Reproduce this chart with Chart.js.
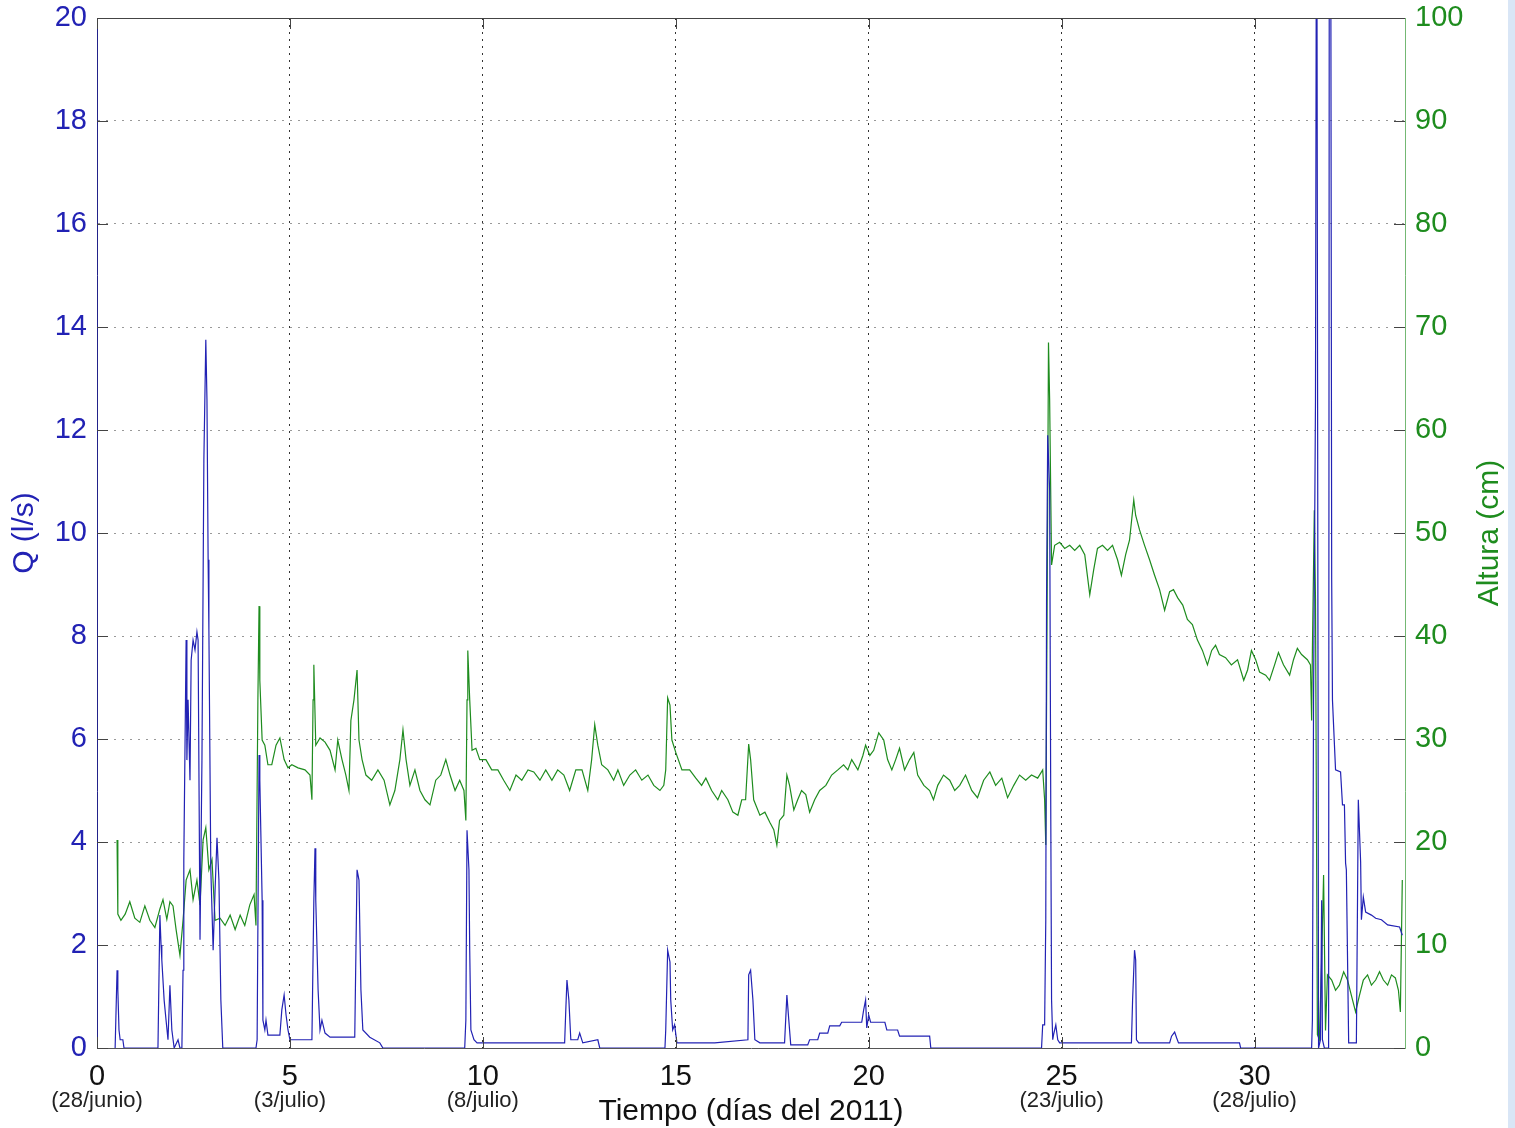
<!DOCTYPE html>
<html>
<head>
<meta charset="utf-8">
<title>Caudal y altura</title>
<script src="https://cdn.jsdelivr.net/npm/chart.js@4.4.1/dist/chart.umd.min.js"></script>
<style>
  html, body { margin: 0; padding: 0; background: #fff; }
  #caja {
    position: relative; width: 1515px; height: 1128px;
    background: linear-gradient(to right, #fff 1508px, #d9e6f6 1508px);
  }
</style>
</head>
<body>
<div id="caja"><canvas id="grafico"></canvas></div>
<script>
// Caudal Q (l/s): dia y valor
const qDias = [0.47, 0.52, 0.54, 0.57, 0.60, 0.67, 0.70, 1.58, 1.63, 1.66, 1.68, 1.74, 1.79, 1.84, 1.89, 1.94, 2.00, 2.10, 2.15, 2.20,
  2.23, 2.25, 2.31, 2.33, 2.36, 2.41, 2.44, 2.49, 2.54, 2.59, 2.62, 2.67, 2.72, 2.77, 2.82, 2.85, 2.88, 2.90, 2.95, 3.01,
  3.06, 3.11, 3.16, 3.21, 3.26, 4.12, 4.15, 4.20, 4.22, 4.28, 4.30, 4.35, 4.38, 4.43, 4.74, 4.79, 4.85, 4.90, 4.95, 5.00,
  5.57, 5.62, 5.65, 5.67, 5.73, 5.78, 5.83, 5.91, 6.04, 6.68, 6.74, 6.79, 6.84, 6.89, 7.07, 7.33, 7.41, 9.53, 9.56, 9.59,
  9.64, 9.66, 9.69, 9.77, 9.85, 12.12, 12.15, 12.18, 12.23, 12.28, 12.46, 12.51, 12.59, 12.98, 13.03, 14.72, 14.74, 14.79, 14.85, 14.87,
  14.92, 14.97, 15.03, 16.01, 16.87, 16.89, 16.94, 17.00, 17.05, 17.18, 17.82, 17.88, 17.93, 17.98, 18.42, 18.47, 18.68, 18.73, 18.94, 18.99,
  19.25, 19.30, 19.82, 19.87, 19.92, 19.95, 20.00, 20.05, 20.42, 20.47, 20.75, 20.80, 21.58, 21.61, 24.48, 24.51, 24.56, 24.59, 24.61, 24.64,
  24.69, 24.72, 24.74, 24.77, 24.79, 24.85, 24.90, 24.95, 26.81, 26.84, 26.89, 26.92, 26.94, 27.00, 27.80, 27.85, 27.93, 27.98, 28.03, 29.61,
  29.64, 31.48, 31.50, 31.53, 31.55, 31.58, 31.61, 31.66, 31.71, 31.74, 31.76, 31.81, 31.92, 31.94, 31.97, 32.00, 32.02, 32.10, 32.23, 32.28,
  32.33, 32.36, 32.38, 32.44, 32.64, 32.67, 32.69, 32.75, 32.77, 32.82, 32.88, 33.03, 33.14, 33.29, 33.45, 33.76, 33.83];
const qCaudal = [0, 1.51, 1.13, 0.35, 0.16, 0.16, 0, 0, 2.58, 2.0, 1.71, 0.93, 0.54, 0.16, 1.22, 0.35, 0, 0.16, 0, 0,
  1.51, 3.65, 7.92, 5.59, 6.76, 5.20, 7.53, 7.92, 7.73, 8.08, 7.92, 2.10, 5.59, 11.42, 13.75, 12.58, 9.48, 8.12, 3.46, 1.90,
  3.07, 4.08, 3.26, 0.93, 0, 0, 0.16, 5.69, 5.20, 2.87, 0.54, 0.35, 0.54, 0.25, 0.25, 0.74, 1.03, 0.64, 0.35, 0.16,
  0.16, 2.87, 3.88, 2.87, 1.13, 0.35, 0.54, 0.29, 0.21, 0.21, 3.46, 3.26, 1.13, 0.35, 0.21, 0.10, 0, 0, 0.54, 4.23,
  3.46, 1.90, 0.35, 0.16, 0.10, 0.10, 0.74, 1.32, 0.93, 0.16, 0.16, 0.29, 0.10, 0.16, 0, 0, 0.35, 1.90, 1.67, 0.93,
  0.35, 0.45, 0.10, 0.10, 0.16, 1.42, 1.51, 0.93, 0.16, 0.10, 0.10, 1.03, 0.54, 0.06, 0.06, 0.16, 0.16, 0.29, 0.29, 0.43,
  0.43, 0.50, 0.50, 0.74, 0.93, 0.39, 0.64, 0.50, 0.50, 0.35, 0.35, 0.23, 0.23, 0, 0, 0.45, 0.45, 2.49, 8.70, 11.90,
  10.83, 4.43, 0.93, 0.16, 0.25, 0.45, 0.16, 0.10, 0.10, 0.93, 1.90, 1.71, 0.16, 0.10, 0.10, 0.23, 0.31, 0.20, 0.10, 0.10,
  0, 0, 0.54, 6.76, 9.09, 12.58, 25, 0, 0.16, 2.87, 0.16, 0, 0, 25, 25, 9.09, 6.76, 5.40, 5.36, 4.72,
  4.72, 3.59, 3.46, 0.10, 0.10, 2.93, 4.82, 3.61, 2.49, 2.93, 2.64, 2.58, 2.52, 2.49, 2.39, 2.35, 2.19];

// Altura (cm): dia y valor
const hDias = [0.52, 0.54, 0.62, 0.73, 0.85, 0.98, 1.11, 1.24, 1.37, 1.50, 1.63, 1.71, 1.81, 1.89, 1.97, 2.05, 2.15, 2.23, 2.31, 2.41,
  2.49, 2.59, 2.67, 2.75, 2.82, 2.90, 2.98, 3.06, 3.19, 3.32, 3.45, 3.58, 3.71, 3.83, 3.96, 4.07, 4.12, 4.17, 4.20, 4.22,
  4.28, 4.35, 4.43, 4.53, 4.64, 4.74, 4.85, 4.95, 5.05, 5.21, 5.39, 5.52, 5.57, 5.60, 5.62, 5.67, 5.78, 5.91, 6.04, 6.17,
  6.24, 6.35, 6.45, 6.53, 6.58, 6.66, 6.74, 6.79, 6.87, 6.97, 7.12, 7.28, 7.44, 7.59, 7.72, 7.85, 7.93, 8.01, 8.11, 8.24,
  8.37, 8.50, 8.63, 8.78, 8.91, 9.04, 9.15, 9.28, 9.40, 9.51, 9.56, 9.59, 9.61, 9.66, 9.72, 9.82, 9.92, 10.08, 10.23, 10.39,
  10.54, 10.70, 10.86, 11.01, 11.17, 11.32, 11.48, 11.63, 11.79, 11.94, 12.10, 12.25, 12.41, 12.57, 12.72, 12.82, 12.90, 12.98, 13.08, 13.24,
  13.39, 13.50, 13.65, 13.81, 13.96, 14.12, 14.28, 14.43, 14.59, 14.69, 14.74, 14.79, 14.85, 14.90, 15.00, 15.16, 15.36, 15.52, 15.67, 15.78,
  15.93, 16.09, 16.19, 16.35, 16.48, 16.61, 16.71, 16.81, 16.89, 16.94, 17.02, 17.18, 17.31, 17.44, 17.54, 17.62, 17.69, 17.80, 17.88, 17.95,
  18.06, 18.16, 18.26, 18.37, 18.47, 18.60, 18.73, 18.89, 19.04, 19.20, 19.35, 19.46, 19.56, 19.72, 19.85, 19.92, 20.03, 20.13, 20.26, 20.39,
  20.49, 20.60, 20.70, 20.80, 20.93, 21.06, 21.17, 21.27, 21.43, 21.58, 21.68, 21.79, 21.94, 22.10, 22.23, 22.36, 22.51, 22.67, 22.82, 22.98,
  23.14, 23.29, 23.45, 23.60, 23.76, 23.91, 24.07, 24.22, 24.38, 24.51, 24.56, 24.59, 24.64, 24.66, 24.69, 24.74, 24.82, 24.95, 25.08, 25.21,
  25.34, 25.47, 25.60, 25.73, 25.83, 25.93, 26.06, 26.19, 26.32, 26.45, 26.55, 26.66, 26.76, 26.87, 26.92, 27.02, 27.15, 27.28, 27.41, 27.54,
  27.67, 27.80, 27.90, 28.01, 28.14, 28.26, 28.39, 28.52, 28.65, 28.78, 28.89, 28.99, 29.09, 29.25, 29.40, 29.56, 29.72, 29.82, 29.92, 30.03,
  30.13, 30.29, 30.39, 30.52, 30.62, 30.75, 30.91, 31.01, 31.11, 31.22, 31.37, 31.45, 31.48, 31.50, 31.55, 31.58, 31.63, 31.68, 31.74, 31.79,
  31.84, 31.89, 32.00, 32.10, 32.20, 32.31, 32.41, 32.51, 32.62, 32.72, 32.82, 32.93, 33.03, 33.14, 33.24, 33.34, 33.45, 33.55, 33.65, 33.73,
  33.78, 33.83];
const hAltura = [20.2, 13.0, 12.4, 13.0, 14.2, 12.6, 12.2, 13.8, 12.4, 11.7, 13.5, 14.4, 12.5, 14.2, 13.8, 11.5, 9.0, 12.4, 16.3, 17.3,
  14.4, 16.3, 13.9, 20.2, 21.4, 17.3, 18.3, 12.4, 12.6, 11.9, 12.9, 11.5, 12.9, 11.9, 13.9, 14.9, 11.9, 33.8, 42.9, 35.7,
  29.9, 29.4, 27.5, 27.5, 29.4, 30.1, 28.0, 27.2, 27.5, 27.2, 27.0, 26.5, 24.1, 33.8, 37.2, 29.4, 30.1, 29.7, 28.9, 27.0,
  29.9, 28.0, 26.5, 25.0, 31.8, 33.8, 36.7, 29.9, 28.0, 26.5, 26.0, 27.0, 26.0, 23.6, 25.0, 28.0, 30.9, 28.0, 25.5, 27.0,
  25.0, 24.1, 23.6, 26.0, 26.5, 28.0, 26.5, 25.0, 26.0, 25.0, 22.1, 33.8, 38.6, 33.8, 28.9, 29.1, 28.0, 28.0, 27.0, 27.0,
  26.0, 25.0, 26.5, 26.0, 27.0, 26.8, 26.0, 27.0, 26.0, 27.0, 26.5, 25.0, 27.0, 27.0, 25.0, 28.0, 31.4, 29.4, 27.5, 27.0,
  26.0, 27.0, 25.5, 26.5, 27.0, 26.0, 26.5, 25.5, 25.0, 25.5, 27.0, 34.0, 33.3, 29.9, 28.7, 27.0, 27.0, 26.2, 25.5, 26.2,
  25.0, 24.1, 25.0, 24.1, 22.9, 22.6, 24.1, 24.1, 29.5, 28.0, 24.1, 22.6, 22.9, 21.9, 21.2, 19.7, 22.1, 22.6, 26.5, 25.5,
  23.1, 24.1, 25.0, 24.6, 22.9, 24.1, 25.0, 25.5, 26.5, 27.0, 27.5, 27.0, 28.0, 27.0, 28.4, 29.4, 28.4, 28.9, 30.6, 29.9,
  28.0, 27.0, 28.0, 29.1, 27.0, 28.0, 28.7, 26.5, 25.5, 25.0, 24.1, 25.5, 26.5, 26.0, 25.0, 25.5, 26.5, 25.0, 24.3, 26.0,
  26.8, 25.5, 26.2, 24.3, 25.5, 26.5, 26.0, 26.5, 26.2, 27.0, 24.1, 19.7, 53.2, 68.5, 62.9, 46.9, 48.8, 49.1, 48.5, 48.8,
  48.3, 48.8, 47.9, 44.0, 46.4, 48.5, 48.8, 48.3, 48.8, 47.4, 45.9, 47.9, 49.3, 53.2, 51.7, 50.3, 48.8, 47.4, 45.9, 44.5,
  42.5, 44.3, 44.5, 43.7, 43.0, 41.6, 41.1, 39.6, 38.6, 37.2, 38.6, 39.1, 38.2, 37.9, 37.2, 37.7, 35.7, 36.7, 38.6, 37.7,
  36.5, 36.2, 35.7, 37.2, 38.4, 37.2, 36.2, 37.7, 38.8, 38.2, 37.7, 37.2, 31.8, 38.6, 52.2, 43.5, 1.3, 0.8, 8.5, 16.8,
  1.7, 7.1, 6.6, 5.6, 6.1, 7.4, 6.6, 5.1, 3.5, 5.1, 6.6, 7.1, 6.1, 6.6, 7.4, 6.6, 6.1, 7.1, 6.8, 5.6,
  3.5, 16.3];

// Marcas del eje x y fechas debajo
const xMarcas = [0, 5, 10, 15, 20, 25, 30];
const fechas = ['(28/junio)', '(3/julio)', '(8/julio)', '', '', '(23/julio)', '(28/julio)'];

const fuente = '"Liberation Sans", Arial, Helvetica, sans-serif';
const azul = '#2222b4';
const verde = '#1e8c1e';

// marco superior, marcas hacia dentro, fechas y titulo derecho
const marco = {
    id: 'marco',
    afterDraw(chart) {
        const ctx = chart.ctx;
        const a = chart.chartArea;
        const sx = chart.scales.x, sq = chart.scales.yq, sh = chart.scales.yh;
        ctx.save();
        ctx.lineWidth = 1;
        ctx.strokeStyle = '#444';
        ctx.beginPath();
        ctx.moveTo(a.left, a.top + 0.5);
        ctx.lineTo(a.right, a.top + 0.5);
        ctx.stroke();

        ctx.beginPath();
        sq.ticks.forEach(t => {
            const y = Math.round(sq.getPixelForValue(t.value)) + 0.5;
            ctx.moveTo(a.left, y); ctx.lineTo(a.left + 11, y);
        });
        sh.ticks.forEach(t => {
            const y = Math.round(sh.getPixelForValue(t.value)) + 0.5;
            ctx.moveTo(a.right - 11, y); ctx.lineTo(a.right, y);
        });
        xMarcas.forEach(v => {
            const x = Math.round(sx.getPixelForValue(v)) + 0.5;
            ctx.moveTo(x, a.bottom); ctx.lineTo(x, a.bottom - 11);
            ctx.moveTo(x, a.top); ctx.lineTo(x, a.top + 11);
        });
        ctx.stroke();

        ctx.font = '22px ' + fuente;
        ctx.fillStyle = '#222';
        ctx.textAlign = 'center';
        ctx.textBaseline = 'middle';
        xMarcas.forEach((v, i) => {
            if (fechas[i]) ctx.fillText(fechas[i], sx.getPixelForValue(v), a.bottom + 53);
        });

        ctx.translate(chart.width - 25, (a.top + a.bottom) / 2);
        ctx.rotate(-Math.PI / 2);
        ctx.font = '30px ' + fuente;
        ctx.fillStyle = verde;
        ctx.fillText('Altura (cm)', 0, 0);
        ctx.restore();
    }
};

// sin relleno extra de las etiquetas, para fijar el area del grafico
function sinRelleno(s) {
    s.paddingTop = 0;
    s.paddingBottom = 0;
    s.paddingLeft = 0;
    s.paddingRight = 0;
}

const ctx = document.getElementById('grafico');

new Chart(ctx, {
    type: 'line',
    data: {
        datasets: [{
            label: 'Q (l/s)',
            data: qDias.map((d, i) => ({x: d, y: qCaudal[i]})),
            yAxisID: 'yq',
            borderColor: azul,
            borderWidth: 1.2,
            pointRadius: 0,
            tension: 0
        }, {
            label: 'Altura (cm)',
            data: hDias.map((d, i) => ({x: d, y: hAltura[i]})),
            yAxisID: 'yh',
            borderColor: verde,
            borderWidth: 1.2,
            pointRadius: 0,
            tension: 0
        }]
    },
    options: {
        responsive: true,
        maintainAspectRatio: false,
        animation: false,
        layout: {padding: {top: 18, left: 0, right: 0, bottom: 0}},
        plugins: {legend: {display: false}, tooltip: {enabled: false}},
        scales: {
            x: {
                type: 'linear',
                min: 0,
                max: 33.9,
                afterFit(s) { s.height = 80; sinRelleno(s); },
                afterBuildTicks(s) { s.ticks = xMarcas.map(v => ({value: v})); },
                ticks: {autoSkip: false, maxRotation: 0, padding: 12, color: '#111', font: {size: 29, family: fuente}},
                grid: {color: '#333', drawTicks: false},
                border: {display: true, color: '#555', dash: [2, 5]},
                title: {
                    display: true,
                    text: 'Tiempo (días del 2011)',
                    color: '#111',
                    font: {size: 30, family: fuente, lineHeight: 1.1},
                    padding: {top: 0, bottom: 0}
                }
            },
            yq: {
                position: 'left',
                min: 0,
                max: 20,
                afterFit(s) { s.width = 97; sinRelleno(s); },
                ticks: {stepSize: 2, padding: 10, color: azul, font: {size: 29, family: fuente}},
                grid: {color: '#999', drawTicks: false},
                border: {display: true, color: '#22228a', dash: [2, 6]},
                title: {
                    display: true,
                    text: 'Q (l/s)',
                    color: azul,
                    font: {size: 30, family: fuente, lineHeight: 1.1},
                    padding: {top: 8, bottom: 0}
                }
            },
            yh: {
                position: 'right',
                min: 0,
                max: 100,
                afterFit(s) { s.width = 110; sinRelleno(s); },
                ticks: {stepSize: 10, padding: 10, color: verde, font: {size: 29, family: fuente}},
                grid: {display: false, drawTicks: false},
                border: {display: true, color: '#74b874'}
            }
        }
    },
    plugins: [marco]
});
</script>
</body>
</html>
